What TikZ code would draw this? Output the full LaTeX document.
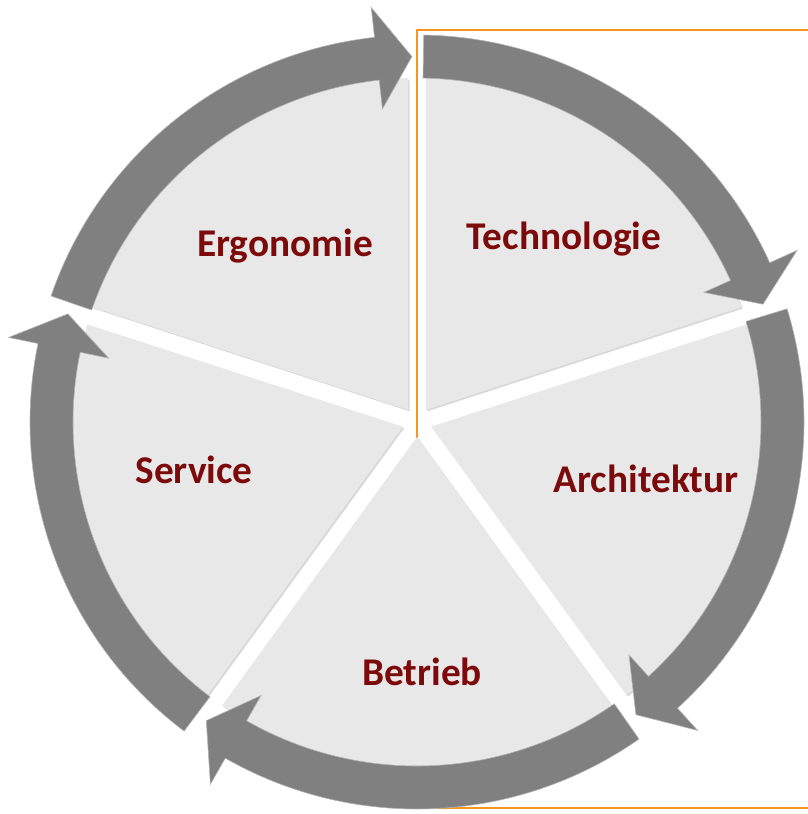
\documentclass[tikz,border=0pt]{standalone}
\usepackage{fontspec}
\setmainfont{Carlito}
\usetikzlibrary{shadows}
\definecolor{labelred}{RGB}{125,10,10}
\definecolor{frameorange}{RGB}{247,150,30}
\tikzset{
every lbl/.style={font=\fontsize{39.3}{42}\selectfont\bfseries},
}
\begin{document}
\begin{tikzpicture}[x=1pt, y=1pt,
						wedge/.style={fill=black!9, drop shadow={shadow xshift=1.5pt, shadow yshift=-1.5pt, opacity=0.3}},
                        ring/.style={fill=black!50, draw=black!30, line width=0.6pt},
                        lbl/.style={every lbl, text=labelred, anchor=base},
					]
					\useasboundingbox (-417,-392) rectangle (390,422);
                    \draw[frameorange, line width=1.5pt] (0,-386) rectangle (400,392);
                    % wedges, by bisector angle
                    \foreach \a in {54,-18,-90,-162,126} {
                        \path[wedge] (\a:15) -- (\a+34.5:344) arc[start angle=\a+34.5, end angle=\a-34.5, radius=344] -- cycle;
                    }
                    % arrows, by gap angle
                    \foreach \g in {90,18,-54,-126,162} {
                        \pgfmathsetmacro\t{\g-1}
                        \pgfmathsetmacro\e{\g-71.2}
                        \pgfmathsetmacro\h{\e+5.5}
                        \path[ring] (\t:344) -- (\t:387) arc[start angle=\t, end angle=\h, radius=387]
                            -- (\h:417) -- (\e:365.5) -- (\h:315) -- (\h:344)
                            arc[start angle=\h, end angle=\t, radius=344] -- cycle;
                    }
					\node[lbl] (tech) at (147,172) {Technologie};
					\node[lbl] (ergo) at (-132,165) {Ergonomie};
					\node[lbl] (arch) at (229,-70) {Architektur};
					\node[lbl] (serv) at (-223,-61) {Service};
					\node[lbl] (betr) at (5,-263) {Betrieb};
	\end{tikzpicture}
\end{document}
